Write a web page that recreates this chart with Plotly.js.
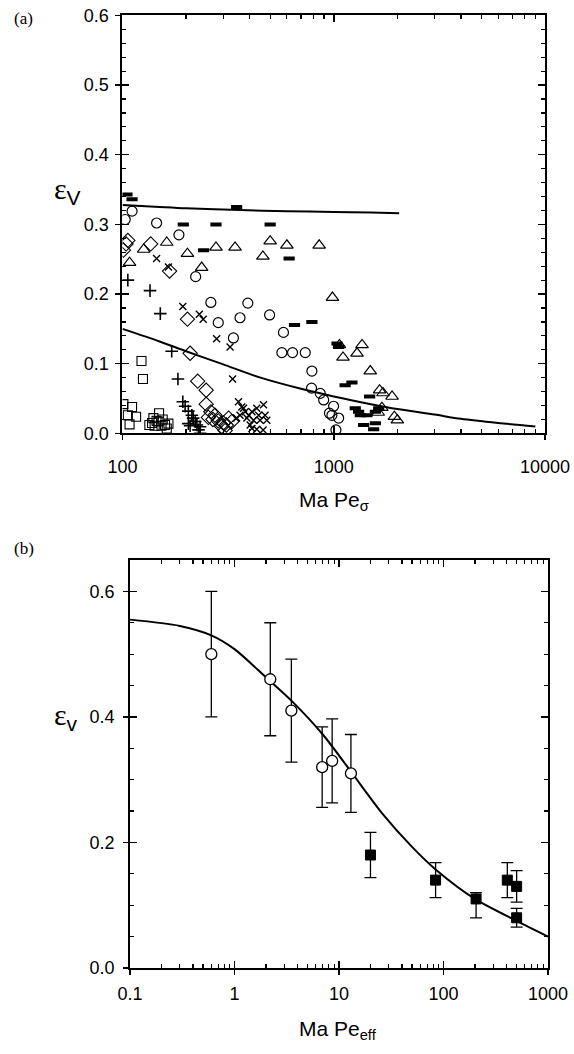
<!DOCTYPE html>
<html>
<head>
<meta charset="utf-8">
<script src="https://cdn.plot.ly/plotly-3.0.1.min.js"></script>
<style>html,body{margin:0;padding:0;background:#fff;}</style>
</head>
<body>
<div id="chart" style="width:574px;height:1054px;"></div>
<script>
// ---------- Panel (a) data ----------
const aCircleX = [111, 103, 145, 185, 222, 262, 392, 284, 360, 335, 497, 578, 568, 638, 733, 788, 785, 863, 896, 998, 954, 980, 1055, 1024];
const aCircleY = [0.319, 0.307, 0.302, 0.285, 0.225, 0.188, 0.187, 0.159, 0.166, 0.137, 0.170, 0.145, 0.116, 0.116, 0.116, 0.0895, 0.065, 0.0575, 0.048, 0.039, 0.029, 0.026, 0.022, 0.005];
const aTriX = [108, 126, 162, 203, 237, 277, 341, 500, 600, 462, 853, 986, 1064, 1361, 1106, 1289, 1489, 1648, 1710, 1888, 1690, 1624, 1937, 2000];
const aTriY = [0.245, 0.264, 0.274, 0.258, 0.238, 0.267, 0.267, 0.276, 0.270, 0.254, 0.270, 0.195, 0.127, 0.127, 0.109, 0.115, 0.0895, 0.062, 0.058, 0.053, 0.037, 0.030, 0.024, 0.019];
const aDiamondX = [106, 104, 101, 136, 167, 203, 209, 227, 249, 249, 262, 274, 255, 284, 300, 318, 306, 329, 295, 268, 310];
const aDiamondY = [0.277, 0.272, 0.263, 0.272, 0.233, 0.164, 0.115, 0.075, 0.062, 0.042, 0.031, 0.026, 0.023, 0.018, 0.015, 0.022, 0.004, 0.017, 0.010, 0.020, 0.012];
const aSquareX = [123, 125, 101, 111, 106, 116, 108, 134, 140, 149, 148, 153, 159, 142, 162, 165, 155, 145, 138];
const aSquareY = [0.104, 0.078, 0.042, 0.038, 0.026, 0.024, 0.013, 0.012, 0.022, 0.029, 0.017, 0.011, 0.012, 0.011, 0.007, 0.014, 0.020, 0.018, 0.015];
const aPlusX = [106, 135, 151, 171, 183, 193, 198, 205, 213, 216, 221, 225, 233, 229, 233, 205, 209];
const aPlusY = [0.220, 0.205, 0.172, 0.118, 0.078, 0.0455, 0.039, 0.032, 0.026, 0.022, 0.017, 0.012, 0.0096, 0.005, 0.0, 0.014, 0.011];
const aCrossX = [145, 165, 193, 231, 241, 279, 323, 332, 354, 367, 381, 396, 410, 432, 388, 417, 441, 360, 410, 432, 402, 374, 448, 465, 473, 482, 347, 463];
const aCrossY = [0.251, 0.239, 0.182, 0.171, 0.164, 0.136, 0.124, 0.078, 0.0455, 0.038, 0.031, 0.026, 0.031, 0.036, 0.022, 0.019, 0.026, 0.026, 0.007, 0.006, 0.012, 0.036, 0.019, 0.041, 0.026, 0.019, 0.022, 0.005];
const aDashX = [105, 111, 347, 194, 277, 242, 500, 615, 652, 788, 1036, 1054, 1132, 1219, 1479, 1264, 1311, 1336, 1436, 1574, 1632, 1385, 1574, 1545];
const aDashY = [0.343, 0.336, 0.325, 0.300, 0.300, 0.263, 0.300, 0.251, 0.1555, 0.160, 0.129, 0.124, 0.069, 0.073, 0.053, 0.036, 0.031, 0.026, 0.026, 0.031, 0.036, 0.012, 0.0145, 0.006];
const aUpperX = [100, 150, 200, 360, 600, 1000, 1500, 2040];
const aUpperY = [0.328, 0.325, 0.323, 0.3205, 0.319, 0.3178, 0.317, 0.316];
const aLowerX = [100, 150, 200, 300, 450, 700, 1000, 1500, 2000, 3000, 4000, 6000, 9000];
const aLowerY = [0.150, 0.132, 0.118, 0.099, 0.080, 0.064, 0.053, 0.042, 0.035, 0.027, 0.021, 0.015, 0.010];
const aXTicks = [100, 1000, 10000];
const aXText = ["100", "1000", "10000"];
const aYTicks = [0, 0.1, 0.2, 0.3, 0.4, 0.5, 0.6];
const aYText = ["0.0", "0.1", "0.2", "0.3", "0.4", "0.5", "0.6"];

// ---------- Panel (b) data ----------
const bOpenX = [0.6, 2.2, 3.5, 6.9, 8.6, 13];
const bOpenY = [0.50, 0.46, 0.41, 0.32, 0.33, 0.31];
const bOpenErr = [0.10, 0.09, 0.082, 0.064, 0.067, 0.062];
const bFilledX = [20, 84, 205, 408, 501, 501];
const bFilledY = [0.18, 0.14, 0.11, 0.14, 0.13, 0.08];
const bFilledErrPlus = [0.036, 0.028, 0.010, 0.028, 0.025, 0.015];
const bFilledErrMinus = [0.036, 0.028, 0.030, 0.028, 0.025, 0.015];
const bCurveX = [0.1, 0.3, 0.6, 1, 2, 3.5, 7, 13, 26, 50, 84, 200, 500, 1000];
const bCurveY = [0.555, 0.545, 0.530, 0.508, 0.463, 0.426, 0.372, 0.313, 0.246, 0.193, 0.157, 0.110, 0.075, 0.050];
const bXTicks = [0.1, 1, 10, 100, 1000];
const bXText = ["0.1", "1", "10", "100", "1000"];
const bYTicks = [0, 0.2, 0.4, 0.6];
const bYText = ["0.0", "0.2", "0.4", "0.6"];

const K = 'black';
function sc(x, y, sym, size, lw) {
  return {type:'scatter', mode:'markers', x:x, y:y, xaxis:'x', yaxis:'y', hoverinfo:'skip',
    marker:{symbol:sym, size:size, color:K, line:{color:K, width:lw}}};
}

const traces = [
  {type:'scatter', mode:'lines', x:aUpperX, y:aUpperY, xaxis:'x', yaxis:'y', line:{color:K, width:2, shape:'spline', smoothing:0.8}},
  {type:'scatter', mode:'lines', x:aLowerX, y:aLowerY, xaxis:'x', yaxis:'y', line:{color:K, width:2, shape:'spline', smoothing:0.8}},
  sc(aSquareX, aSquareY, 'square-open', 9, 1.1),
  sc(aDiamondX, aDiamondY, 'diamond-open', 11, 1.1),
  sc(aCircleX, aCircleY, 'circle-open', 10, 1.2),
  sc(aTriX, aTriY, 'triangle-up-open', 11, 1.2),
  sc(aPlusX, aPlusY, 'cross-thin-open', 9, 1.6),
  sc(aCrossX, aCrossY, 'x-thin-open', 7, 1.4),
  sc(aDashX, aDashY, 'line-ew-open', 8, 4),
  {type:'scatter', mode:'markers', x:[], y:[], xaxis:'x3', yaxis:'y3', hoverinfo:'skip'},
  {type:'scatter', mode:'lines', x:bCurveX, y:bCurveY, xaxis:'x2', yaxis:'y2', line:{color:K, width:2, shape:'spline', smoothing:0.8}},
  {type:'scatter', mode:'markers', x:bOpenX, y:bOpenY, xaxis:'x2', yaxis:'y2',
    error_y:{type:'data', array:bOpenErr, color:K, thickness:1.3, width:6},
    marker:{symbol:'circle', size:11, color:'white', line:{color:K, width:1.3}}},
  {type:'scatter', mode:'markers', x:bFilledX, y:bFilledY, xaxis:'x2', yaxis:'y2',
    error_y:{type:'data', symmetric:false, array:bFilledErrPlus, arrayminus:bFilledErrMinus, color:K, thickness:1.3, width:6},
    marker:{symbol:'square', size:10, color:K, line:{color:K, width:1}}},
  {type:'scatter', mode:'markers', x:[], y:[], xaxis:'x4', yaxis:'y4', hoverinfo:'skip'}
];

const tickFont = {family:'Liberation Sans, Arial, sans-serif', size:18, color:K};
function mainAxis(o) {
  return Object.assign({showline:true, linewidth:2, linecolor:K, mirror:'ticks', ticks:'inside', ticklen:7, tickwidth:1.5, tickcolor:K,
    showgrid:false, zeroline:false, tickfont:tickFont, fixedrange:true}, o);
}
function overAxis(o) {
  return Object.assign({showline:false, ticks:'outside', ticklen:6, tickwidth:1.5, tickcolor:K, showticklabels:false,
    showgrid:false, zeroline:false, fixedrange:true}, o);
}

const layout = {
  width:574, height:1054, margin:{l:0, r:0, t:0, b:0}, showlegend:false,
  paper_bgcolor:'white', plot_bgcolor:'white',
  font:{family:'Liberation Sans, Arial, sans-serif', size:18, color:K},
  xaxis: mainAxis({domain:[0.2134, 0.9495], anchor:'y', type:'log', range:[2, 4], tickvals:aXTicks, ticktext:aXText,
    ticklabelstandoff:16, minor:{ticks:'inside', ticklen:4, tickwidth:1.2, tickcolor:K, dtick:'D1', showgrid:false}}),
  yaxis: mainAxis({domain:[0.5888, 0.9854], anchor:'x', range:[0, 0.6], tickvals:aYTicks, ticktext:aYText,
    ticklabelstandoff:8, minor:{ticks:'inside', ticklen:4, tickwidth:1.2, tickcolor:K, dtick:0.02, showgrid:false}}),
  xaxis3: overAxis({overlaying:'x', anchor:'y3', type:'log', range:[2, 4], tickvals:aXTicks}),
  yaxis3: overAxis({overlaying:'y', anchor:'x3', range:[0, 0.6], tickvals:aYTicks}),
  xaxis2: mainAxis({domain:[0.2265, 0.9547], anchor:'y2', type:'log', range:[-1, 3], tickvals:bXTicks, ticktext:bXText,
    ticklabelstandoff:8, minor:{ticks:'inside', ticklen:4, tickwidth:1.2, tickcolor:K, dtick:'D1', showgrid:false}}),
  yaxis2: mainAxis({domain:[0.0816, 0.4687], anchor:'x2', range:[0, 0.65], tickvals:bYTicks, ticktext:bYText,
    ticklabelstandoff:10, minor:{ticks:'inside', ticklen:4, tickwidth:1.2, tickcolor:K, dtick:0.05, showgrid:false}}),
  xaxis4: overAxis({overlaying:'x2', anchor:'y4', type:'log', range:[-1, 3], tickvals:bXTicks}),
  yaxis4: overAxis({overlaying:'y2', anchor:'x4', range:[0, 0.65], tickvals:bYTicks}),
  annotations: [
    {xref:'paper', yref:'paper', x:12/574, y:1-18/1054, xanchor:'left', yanchor:'middle', showarrow:false,
      text:'(a)', font:{family:'Liberation Serif, serif', size:17, color:K}},
    {xref:'paper', yref:'paper', x:12/574, y:1-548/1054, xanchor:'left', yanchor:'middle', showarrow:false,
      text:'(b)', font:{family:'Liberation Serif, serif', size:17, color:K}},
    {xref:'paper', yref:'paper', x:52/574, y:1-190/1054, xanchor:'left', yanchor:'middle', showarrow:false,
      text:'ε<sub><span style="font-family:Liberation Sans">V</span></sub>', font:{family:'Liberation Serif, serif', size:30, color:K}},
    {xref:'paper', yref:'paper', x:52/574, y:1-716/1054, xanchor:'left', yanchor:'middle', showarrow:false,
      text:'ε<sub><span style="font-family:Liberation Sans">v</span></sub>', font:{family:'Liberation Serif, serif', size:30, color:K}},
    {xref:'paper', yref:'paper', x:334/574, y:1-501/1054, xanchor:'center', yanchor:'middle', showarrow:false,
      text:'Ma Pe<sub>σ</sub>', font:{family:'Liberation Sans, Arial, sans-serif', size:21, color:K}},
    {xref:'paper', yref:'paper', x:338/574, y:1-1030/1054, xanchor:'center', yanchor:'middle', showarrow:false,
      text:'Ma Pe<sub>eff</sub>', font:{family:'Liberation Sans, Arial, sans-serif', size:21, color:K}}
  ]
};

Plotly.newPlot('chart', traces, layout, {staticPlot:true, displayModeBar:false});
</script>
</body>
</html>
